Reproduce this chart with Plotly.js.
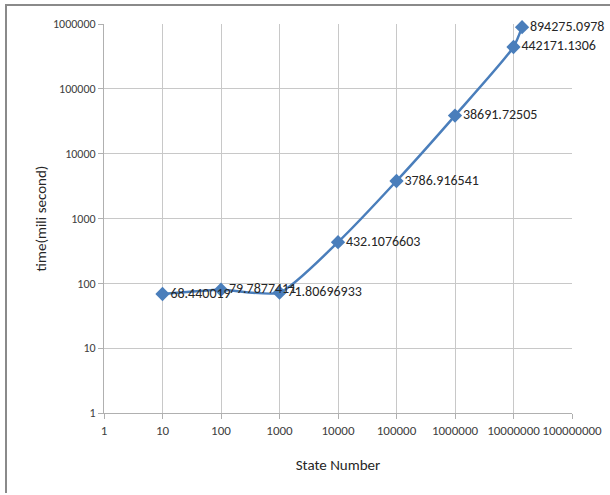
<!DOCTYPE html>
<html>
<head>
<meta charset="utf-8">
<script src="https://cdn.plot.ly/plotly-3.0.1.min.js"></script>
<style>
html,body{margin:0;padding:0;background:#fff;}
#frame{position:absolute;left:5px;top:4px;width:603px;height:487px;border-top:2px solid #8a8a8a;border-left:2px solid #8a8a8a;}
#chart{position:absolute;left:0;top:0;width:610px;height:495px;}
</style>
</head>
<body>
<div id="frame"></div>
<div id="chart"></div>
<script>
const stateNumbers = [10, 100, 1000, 10000, 100000, 1000000, 10000000, 14000000];
const timesMs = [68.440019, 79.7877411, 71.80696933, 432.1076603, 3786.916541, 38691.72505, 442171.1306, 894275.0978];
const pointLabels = ['68.440019', '79.7877411', '71.80696933', '432.1076603', '3786.916541', '38691.72505', '442171.1306', '894275.0978'];
const xTickVals = [1, 10, 100, 1000, 10000, 100000, 1000000, 10000000, 100000000];
const xTickText = ['1', '10', '100', '1000', '10000', '100000', '1000000', '10000000', '100000000'];
const yTickVals = [1, 10, 100, 1000, 10000, 100000, 1000000];
const yTickText = ['1', '10', '100', '1000', '10000', '100000', '1000000'];

const FONT = 'Liberation Sans Narrow, Arial Narrow, Carlito, sans-serif';

const trace = {
  x: stateNumbers,
  y: timesMs,
  mode: 'lines+markers+text',
  type: 'scatter',
  text: pointLabels,
  textposition: 'middle right',
  textfont: {family: FONT, size: 14, color: '#262626'},
  line: {color: '#4a7ebb', width: 2.5, shape: 'spline', smoothing: 0.6},
  marker: {symbol: 'diamond', size: 11, color: '#4a7ebb'},
  cliponaxis: false,
  hoverinfo: 'x+y'
};

const layout = {
  width: 610, height: 495,
  margin: {l: 104, r: 38, t: 24, b: 82},
  paper_bgcolor: 'rgba(0,0,0,0)',
  plot_bgcolor: '#ffffff',
  showlegend: false,
  font: {family: FONT, size: 12, color: '#404040'},
  xaxis: {
    type: 'log', range: [0, 8],
    tickvals: xTickVals, ticktext: xTickText,
    showgrid: true, gridcolor: '#c8c8c8', gridwidth: 1,
    showline: true, linecolor: '#b0b0b0', linewidth: 1,
    ticks: 'outside', ticklen: 5, tickcolor: '#b0b0b0',
    zeroline: false,
    tickfont: {family: FONT, size: 13, color: '#404040'},
    title: {text: 'State Number', font: {family: FONT, size: 15, color: '#262626'}, standoff: 22}
  },
  yaxis: {
    type: 'log', range: [0, 6],
    tickvals: yTickVals, ticktext: yTickText,
    ticksuffix: '\u00a0\u00a0',
    showgrid: true, gridcolor: '#c8c8c8', gridwidth: 1,
    showline: true, linecolor: '#b0b0b0', linewidth: 1,
    ticks: 'outside', ticklen: 5, tickcolor: '#b0b0b0',
    zeroline: false,
    tickfont: {family: FONT, size: 12, color: '#404040'},
    title: {text: 'time(mili second)', font: {family: FONT, size: 15, color: '#262626'}, standoff: 2}
  }
};

Plotly.newPlot('chart', [trace], layout, {displayModeBar: false, staticPlot: true});
</script>
</body>
</html>
